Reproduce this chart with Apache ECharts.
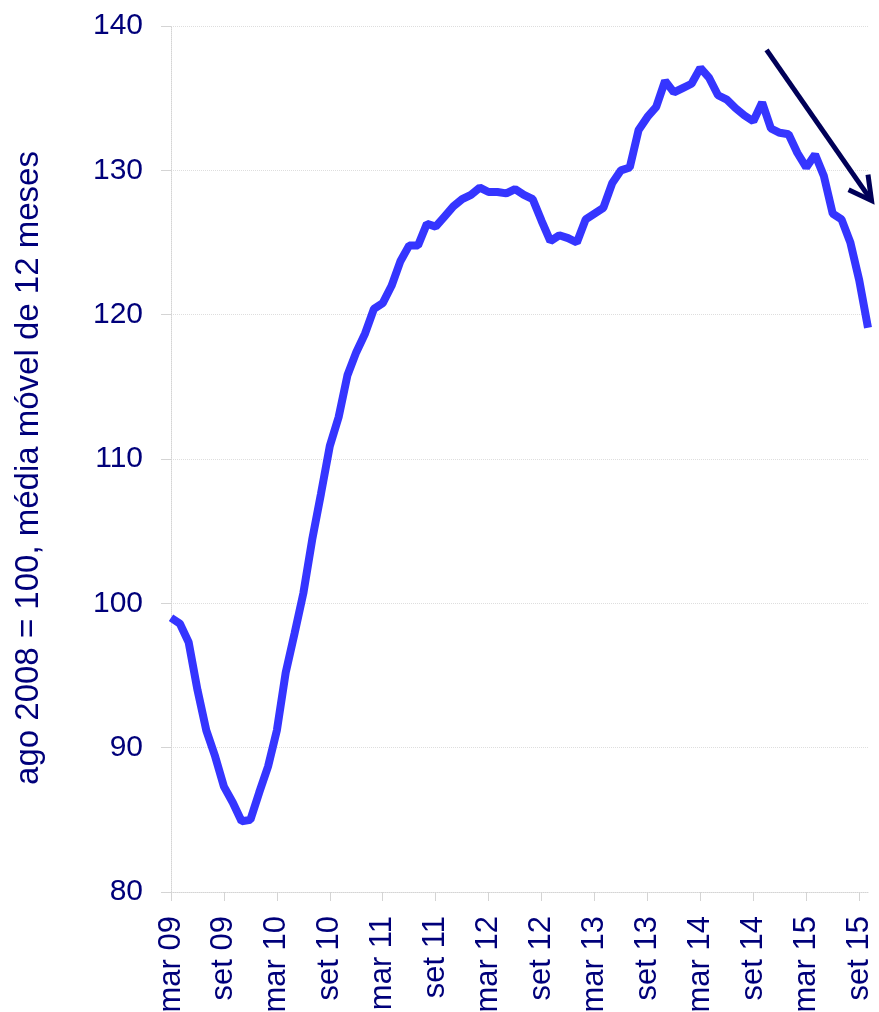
<!DOCTYPE html>
<html>
<head>
<meta charset="utf-8">
<script src="https://cdn.jsdelivr.net/npm/echarts@6/dist/echarts.min.js"></script>
<style>
html, body { margin: 0; padding: 0; background: #fff; }
#main { width: 879px; height: 1012px; }
</style>
</head>
<body>
<div id="main"></div>
<script>
// meses: mar 09 .. out 15
var categories = [
    'mar 09', 'abr 09', 'mai 09', 'jun 09', 'jul 09', 'ago 09', 'set 09', 'out 09', 'nov 09', 'dez 09',
    'jan 10', 'fev 10', 'mar 10', 'abr 10', 'mai 10', 'jun 10', 'jul 10', 'ago 10', 'set 10', 'out 10', 'nov 10', 'dez 10',
    'jan 11', 'fev 11', 'mar 11', 'abr 11', 'mai 11', 'jun 11', 'jul 11', 'ago 11', 'set 11', 'out 11', 'nov 11', 'dez 11',
    'jan 12', 'fev 12', 'mar 12', 'abr 12', 'mai 12', 'jun 12', 'jul 12', 'ago 12', 'set 12', 'out 12', 'nov 12', 'dez 12',
    'jan 13', 'fev 13', 'mar 13', 'abr 13', 'mai 13', 'jun 13', 'jul 13', 'ago 13', 'set 13', 'out 13', 'nov 13', 'dez 13',
    'jan 14', 'fev 14', 'mar 14', 'abr 14', 'mai 14', 'jun 14', 'jul 14', 'ago 14', 'set 14', 'out 14', 'nov 14', 'dez 14',
    'jan 15', 'fev 15', 'mar 15', 'abr 15', 'mai 15', 'jun 15', 'jul 15', 'ago 15', 'set 15', 'out 15'
];

// ago 2008 = 100, média móvel de 12 meses
var indice = [
    99.0, 98.6, 97.3, 94.0, 91.2, 89.4, 87.3, 86.2, 84.9, 85.0,
    86.9, 88.7, 91.2, 95.2, 97.9, 100.7, 104.4, 107.6, 110.9, 112.9,
    115.8, 117.4, 118.7, 120.4, 120.8, 122.0, 123.7, 124.8, 124.8, 126.3,
    126.1, 126.8, 127.5, 128.0, 128.3, 128.8, 128.5, 128.5, 128.4, 128.7,
    128.3, 128.0, 126.5, 125.1, 125.5, 125.3, 125.0, 126.6, 127.0, 127.4,
    129.1, 130.0, 130.2, 132.8, 133.7, 134.4, 136.2, 135.4, 135.7, 136.0,
    137.1, 136.4, 135.2, 134.9, 134.3, 133.8, 133.4, 134.7, 132.9, 132.6,
    132.5, 131.2, 130.2, 131.1, 129.6, 127.0, 126.6, 125.0, 122.4, 119.1
];

// rótulos do eixo x: mar e set de cada ano
var tickLabels = ['mar 09', 'set 09', 'mar 10', 'set 10', 'mar 11', 'set 11', 'mar 12',
    'set 12', 'mar 13', 'set 13', 'mar 14', 'set 14', 'mar 15', 'set 15'];
var yTicks = [80, 90, 100, 110, 120, 130, 140];

// seta (coordenadas de dados: índice do mês, valor)
var arrowFrom = [67.5, 138.35];
var arrowTip = [79.4, 127.9];
var arrowWingA = [76.8, 128.65];
var arrowWingB = [79.0, 129.7];

var azul = '#00007a';
var fonte = 'Liberation Sans, Arial, sans-serif';
var cinza = '#d4d4d4';

var tickIdx = tickLabels.map(function (t) { return categories.indexOf(t); });

var myChart = echarts.init(document.getElementById('main'));

var option = {
    animation: false,
    grid: {left: 171, right: 11, top: 26, bottom: 120, outerBoundsMode: 'none'},
    xAxis: {
        type: 'value',
        min: 0,
        max: categories.length - 1,
        axisLine: {onZero: false, lineStyle: {color: cinza, type: 'dotted'}},
        axisTick: {customValues: tickIdx, length: 9, lineStyle: {color: cinza}},
        axisLabel: {
            customValues: tickIdx,
            rotate: 90,
            margin: 24,
            padding: [8, 0, 0, 0],
            color: azul,
            fontSize: 31,
            fontFamily: fonte,
            formatter: function (v) { return categories[v]; }
        },
        splitLine: {show: false}
    },
    yAxis: {
        type: 'value',
        min: yTicks[0],
        max: yTicks[yTicks.length - 1],
        interval: 10,
        name: 'ago 2008 = 100, média móvel de 12 meses',
        nameLocation: 'middle',
        nameGap: 126,
        nameTextStyle: {color: azul, fontSize: 33, fontFamily: fonte, padding: [0, 18, 0, 0]},
        axisLine: {show: true, lineStyle: {color: cinza, type: 'dotted'}},
        axisTick: {show: true, length: 10, lineStyle: {color: cinza}},
        axisLabel: {margin: 28, color: azul, fontSize: 30, fontFamily: fonte},
        splitLine: {show: true, lineStyle: {color: '#dedede', type: 'dotted'}}
    },
    series: [{
        name: 'indice',
        type: 'line',
        data: indice.map(function (v, i) { return [i, v]; }),
        symbol: 'none',
        lineStyle: {width: 8, color: '#3535ff'}
    }]
};

myChart.setOption(option);

var px = function (c) { return myChart.convertToPixel({gridIndex: 0}, c); };
var a0 = px(arrowFrom), a1 = px(arrowTip);
myChart.setOption({
    graphic: [
        {
            type: 'line',
            shape: {x1: a0[0], y1: a0[1], x2: a1[0], y2: a1[1]},
            style: {stroke: '#000058', lineWidth: 5}
        },
        {
            type: 'polyline',
            shape: {points: [px(arrowWingA), a1, px(arrowWingB)]},
            style: {stroke: '#000058', lineWidth: 5, fill: null}
        }
    ]
});
</script>
</body>
</html>
